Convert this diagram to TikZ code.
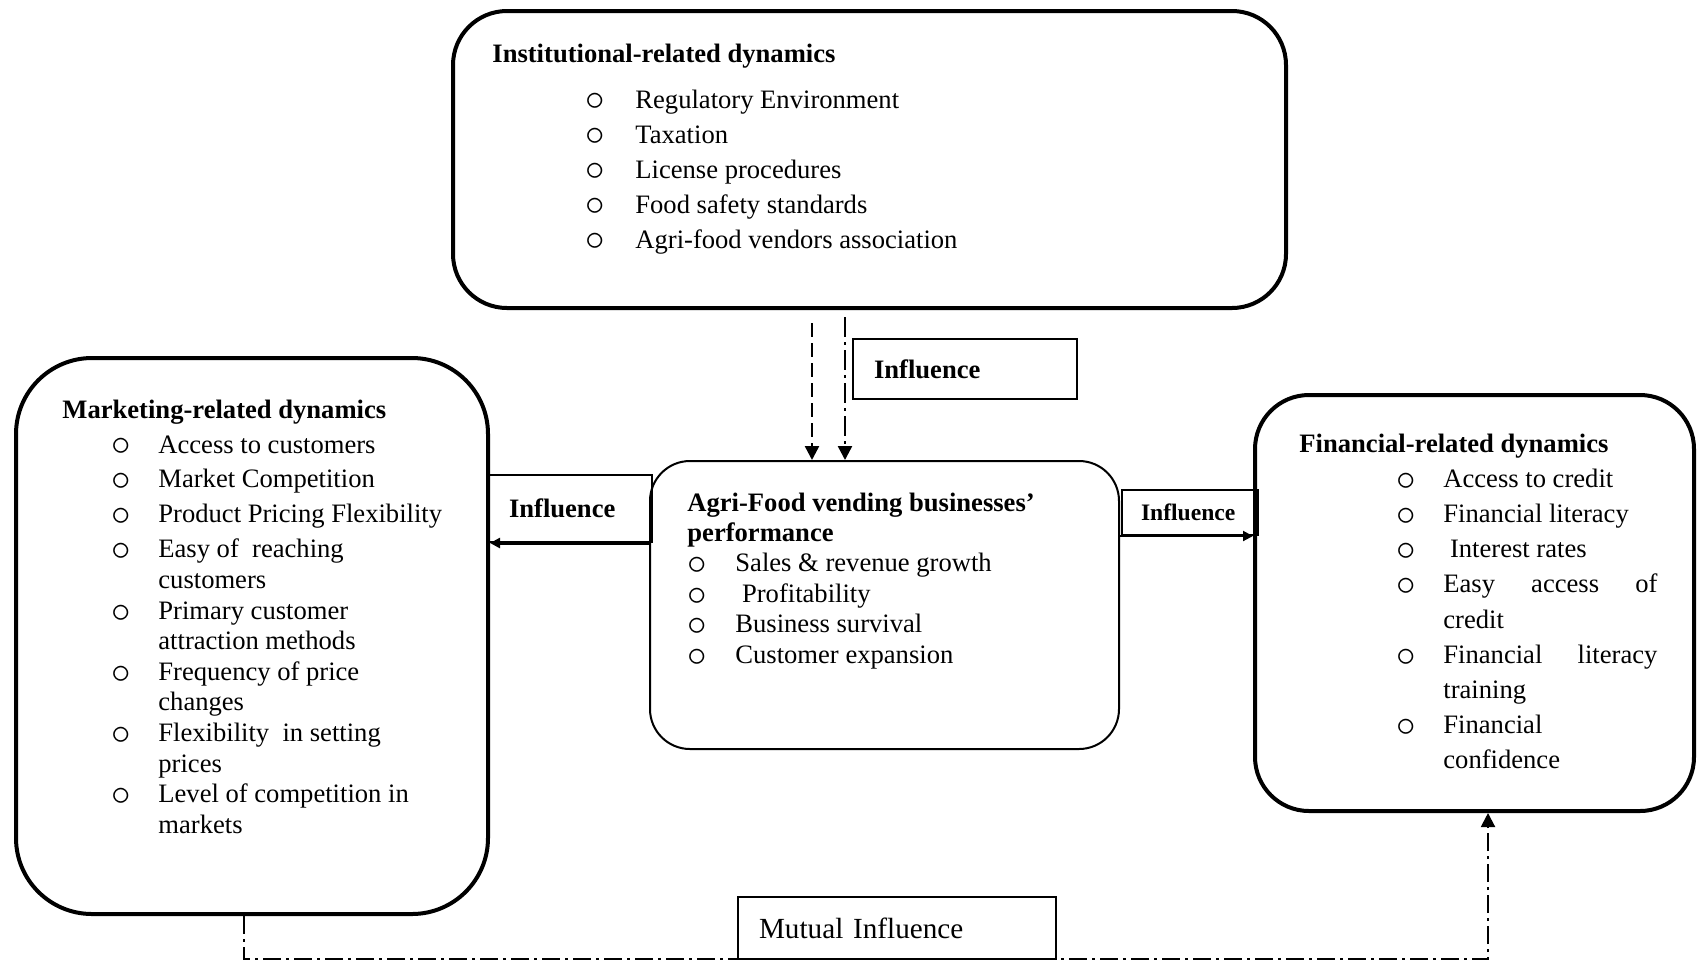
\documentclass[tikz,border=0pt]{standalone}
\usepackage{graphicx}
\usepackage{fontspec}
\setmainfont{Liberation Serif}
\usepackage{tikz}
\usetikzlibrary{arrows.meta,positioning,calc}
\newcommand{\listbullet}{\raisebox{-0.11em}{\scalebox{1.35}{$\circ$}}}

\begin{document}
\begin{tikzpicture}[
  x=0.5pt, y=-0.5pt,
  dynbox/.style={draw, line width=2pt, rounded corners=27pt},
  perfbox/.style={draw, line width=1pt, rounded corners=20pt},
  labelbox/.style={draw, line width=1pt, align=left, inner xsep=10.5pt,
                   inner ysep=0pt, font=\bfseries\fontsize{13.3pt}{15pt}\selectfont},
  listtext/.style={anchor=base west, inner sep=0pt,
                   font=\fontsize{13.3pt}{17.5pt}\selectfont},
  dasharr/.style={-{Triangle[length=7pt,width=7pt]}, line width=1.2pt,
                  dash pattern=on 7pt off 3pt},
  dotarr/.style={-{Triangle[length=7pt,width=7pt]}, line width=1.2pt,
                 dash pattern=on 10pt off 2.5pt on 1.5pt off 2.5pt},
  flowarr/.style={-{Triangle[length=5pt,width=5pt]}, line width=1pt},
  mutarr/.style={-{Triangle[length=7pt,width=7pt]}, line width=1pt,
                 dash pattern=on 9pt off 2.5pt on 1.5pt off 2.5pt}
]
  \useasboundingbox (0,0) rectangle (1697,966);

  % Boxes
  \node[dynbox, minimum width=416.5pt, minimum height=148.5pt] (inst) at (869.5,159.5) {};
  \node[dynbox, rounded corners=38pt, minimum width=236pt, minimum height=278pt] (mkt) at (252,636) {};
  \node[perfbox, minimum width=234.5pt, minimum height=144pt] (perf) at (884.5,605) {};
  \node[dynbox, minimum width=219.5pt, minimum height=208pt] (fin) at (1474.5,603) {};

  % Institutional list
  \node[listtext] (instText) at (492,62) {%
    \begin{tabular}[t]{@{\hspace{46.5pt}}p{25pt}@{}l@{}}
      \multicolumn{2}{@{}l@{}}{\bfseries Institutional-related dynamics}\\[5.5pt]
      \listbullet & Regulatory Environment\\
      \listbullet & Taxation\\
      \listbullet & License procedures\\
      \listbullet & Food safety standards\\
      \listbullet & Agri-food vendors association
    \end{tabular}};

  % Marketing list
  \node[listtext] (mktText) at (62,418) {\def\arraystretch{0.874}%
    \begin{tabular}[t]{@{\hspace{24.5pt}}p{23.5pt}@{}l@{}}
      \multicolumn{2}{@{}l@{}}{\bfseries Marketing-related dynamics}\\[2.2pt]
      \listbullet & Access to customers\\[2.2pt]
      \listbullet & Market Competition\\[2.2pt]
      \listbullet & Product Pricing Flexibility\\[2.2pt]
      \listbullet & Easy of~ reaching\\
                  & customers\\
      \listbullet & Primary customer\\
                  & attraction methods\\
      \listbullet & Frequency of price\\
                  & changes\\
      \listbullet & Flexibility~ in setting\\
                  & prices\\
      \listbullet & Level of competition in\\
                  & markets
    \end{tabular}};

  % Performance list
  \node[listtext] (perfText) at (687,511) {\def\arraystretch{0.871}%
    \begin{tabular}[t]{@{}p{24pt}@{}l@{}}
      \multicolumn{2}{@{}l@{}}{\bfseries Agri-Food vending businesses’}\\
      \multicolumn{2}{@{}l@{}}{\bfseries performance}\\
      \listbullet & Sales \& revenue growth\\
      \listbullet & \ Profitability\\
      \listbullet & Business survival\\
      \listbullet & Customer expansion
    \end{tabular}};

  % Financial list
  \node[listtext] (finText) at (1299,452) {\def\arraystretch{1.006}%
    \begin{tabular}[t]{@{\hspace{48.5pt}}p{23.5pt}@{}l@{}}
      \multicolumn{2}{@{}l@{}}{\bfseries Financial-related dynamics}\\
      \listbullet & Access to credit\\
      \listbullet & Financial literacy\\
      \listbullet & \ Interest rates\\
      \listbullet & \makebox[107pt][s]{Easy access of}\\
                  & credit\\
      \listbullet & \makebox[107pt][s]{Financial literacy}\\
                  & training\\
      \listbullet & Financial\\
                  & confidence
    \end{tabular}};

  % Influence labels
  \node[labelbox, text width=91pt, minimum height=30pt] (inflTop) at (965,369) {Influence};
  \node[labelbox, text width=61pt, minimum height=33.5pt] (inflLeft) at (570,508.5) {Influence};
  \node[labelbox, text width=49pt, inner xsep=9.5pt, minimum height=22.5pt,
        font=\bfseries\fontsize{11.8pt}{13pt}\selectfont] (inflRight) at (1190,512.5) {Influence};
  \node[labelbox, line width=1.2pt, text width=138pt, minimum height=31pt,
        font=\fontsize{14.6pt}{16pt}\selectfont] (mutual) at (897,928) {Mutual Influence};

  % Arrows into the performance box
  \coordinate (dashTop) at (812,323);
  \coordinate (dotTop) at (845,317);
  \draw[dasharr] (dashTop) -- (dashTop |- perf.north);
  \draw[dotarr] (dotTop) -- (dotTop |- perf.north);

  % Arrows out to the side boxes
  \draw[flowarr, line width=2pt] (perf.west |- inflLeft.south) -- (mkt.east |- inflLeft.south);
  \draw[flowarr] (perf.east |- inflRight.south) -- (fin.west |- inflRight.south);

  % Mutual influence loop
  \coordinate (mutL) at (244,959);
  \coordinate (mutR) at (1488,959);
  \draw[mutarr] (mkt.south -| mutL) -- (mutL) -- (mutR) -- (fin.south -| mutR);
\end{tikzpicture}
\end{document}
